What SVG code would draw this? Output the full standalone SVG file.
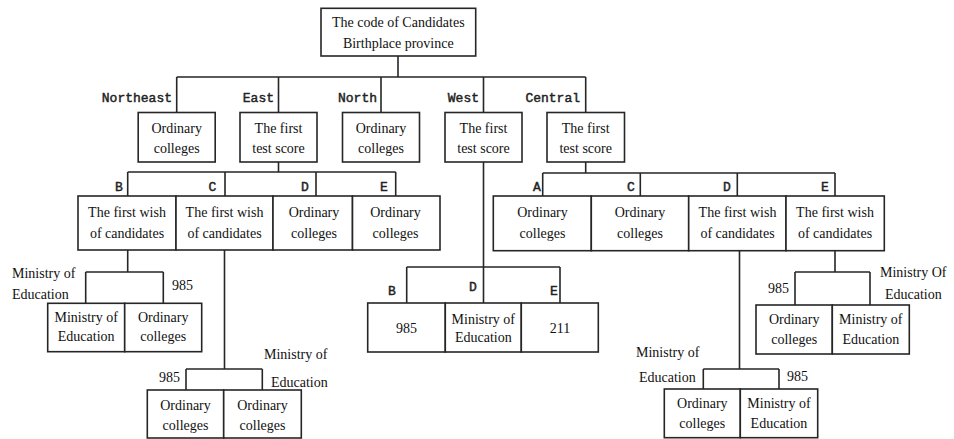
<svg xmlns="http://www.w3.org/2000/svg" width="954" height="439" viewBox="0 0 954 439">
<style>
.bg{fill:#ffffff}
.box{fill:#ffffff;stroke:#262626;stroke-width:1.6}
.ln{fill:none;stroke:#262626;stroke-width:1.6}
.t{font-family:"Liberation Serif","Tinos","DejaVu Serif","Noto Serif","Times New Roman",serif;font-size:14px;fill:#111;text-anchor:middle}
.s{font-family:"Liberation Serif","Tinos","DejaVu Serif","Noto Serif","Times New Roman",serif;font-size:14px;fill:#111}
.m{font-family:"Liberation Mono","Courier New",monospace;font-size:13px;fill:#222;stroke:#222;stroke-width:0.45}
.me{text-anchor:end}
.mm{text-anchor:middle}
</style>
<rect class="bg" x="0" y="0" width="954" height="439"/>
<g id="connectors">
<path class="ln" d="M398,56 V77 M176.7,77 H585.7 M176.7,77 V112.5 M278.5,77 V112.5 M381,77 V112.5 M483.5,77 V112.5 M585.7,77 V112.5"/>
<path class="ln" d="M278.5,162 V172 M127.7,172 H395.7 M127.7,172 V196 M225,172 V196 M316,172 V196 M395.7,172 V196"/>
<path class="ln" d="M585.7,162 V173 M542.7,173 H835 M542.7,173 V196 M640.3,173 V196 M737.3,173 V196 M835,173 V196"/>
<path class="ln" d="M483.5,162 V303 M406.7,267 H560 M406.7,267 V303 M560,267 V303"/>
<path class="ln" d="M127.7,250 V272 M85.7,272 H163.3 M85.7,272 V303.3 M163.3,272 V303.3"/>
<path class="ln" d="M224.5,250 V369 M186,369 H262.3 M186,369 V390 M262.3,369 V390"/>
<path class="ln" d="M739.5,250.7 V369 M703.3,369 H779 M703.3,369 V389 M779,369 V389"/>
<path class="ln" d="M835,250.7 V272 M795,272 H870 M795,272 V305 M870,272 V305"/>
</g>
<g id="edge-labels">
<text class="m me" x="172" y="102">Northeast</text>
<text class="m me" x="274" y="102">East</text>
<text class="m me" x="377" y="102">North</text>
<text class="m me" x="479" y="102">West</text>
<text class="m me" x="580" y="102">Central</text>
<text class="m mm" x="119" y="191">B</text>
<text class="m mm" x="212.5" y="191">C</text>
<text class="m mm" x="305" y="191">D</text>
<text class="m mm" x="384" y="191">E</text>
<text class="m mm" x="537" y="191">A</text>
<text class="m mm" x="631" y="191">C</text>
<text class="m mm" x="727" y="191">D</text>
<text class="m mm" x="825" y="191">E</text>
<text class="m mm" x="392" y="295">B</text>
<text class="m mm" x="473" y="291">D</text>
<text class="m mm" x="554" y="295">E</text>
<text class="s" x="12" y="278">Ministry of</text>
<text class="s" x="12" y="299">Education</text>
<text class="s" x="172" y="290">985</text>
<text class="s" x="159" y="381.5">985</text>
<text class="s" x="264" y="359">Ministry of</text>
<text class="s" x="271" y="386.5">Education</text>
<text class="s" x="636" y="356.5">Ministry of</text>
<text class="s" x="639" y="382">Education</text>
<text class="s" x="787" y="381">985</text>
<text class="s" x="768" y="293">985</text>
<text class="s" x="880" y="277">Ministry Of</text>
<text class="s" x="885" y="299">Education</text>
</g>
<g id="root"><rect class="box" x="321" y="8.3" width="154.7" height="47.7"/><text class="t" x="398.3" y="26.5">The code of Candidates</text><text class="t" x="398.3" y="47.5">Birthplace province</text></g>
<g id="northeast"><rect class="box" x="138.2" y="112.5" width="77" height="49.5"/><text class="t" x="176.7" y="133">Ordinary</text><text class="t" x="176.7" y="153">colleges</text></g>
<g id="east"><rect class="box" x="240" y="112.5" width="77" height="49.5"/><text class="t" x="278.5" y="133">The first</text><text class="t" x="278.5" y="153">test score</text></g>
<g id="north"><rect class="box" x="342.5" y="112.5" width="77" height="49.5"/><text class="t" x="381" y="133">Ordinary</text><text class="t" x="381" y="153">colleges</text></g>
<g id="west"><rect class="box" x="445" y="112.5" width="77" height="49.5"/><text class="t" x="483.5" y="133">The first</text><text class="t" x="483.5" y="153">test score</text></g>
<g id="central"><rect class="box" x="547" y="112.5" width="77.5" height="49.5"/><text class="t" x="585.7" y="133">The first</text><text class="t" x="585.7" y="153">test score</text></g>
<g id="east-b"><rect class="box" x="78" y="196" width="98" height="54"/><text class="t" x="127" y="217">The first wish</text><text class="t" x="127" y="237.5">of candidates</text></g>
<g id="east-c"><rect class="box" x="176" y="196" width="97" height="54"/><text class="t" x="224.5" y="217">The first wish</text><text class="t" x="224.5" y="237.5">of candidates</text></g>
<g id="east-d"><rect class="box" x="273" y="196" width="79.5" height="54"/><text class="t" x="314" y="217">Ordinary</text><text class="t" x="314" y="237.5">colleges</text></g>
<g id="east-e"><rect class="box" x="352.5" y="196" width="87.5" height="54"/><text class="t" x="395.5" y="217">Ordinary</text><text class="t" x="395.5" y="237.5">colleges</text></g>
<g id="central-a"><rect class="box" x="493.3" y="196" width="98" height="54.7"/><text class="t" x="542.5" y="217">Ordinary</text><text class="t" x="542.5" y="237.5">colleges</text></g>
<g id="central-c"><rect class="box" x="591.3" y="196" width="97.4" height="54.7"/><text class="t" x="640" y="217">Ordinary</text><text class="t" x="640" y="237.5">colleges</text></g>
<g id="central-d"><rect class="box" x="688.7" y="196" width="97.3" height="54.7"/><text class="t" x="737.5" y="217">The first wish</text><text class="t" x="737.5" y="237.5">of candidates</text></g>
<g id="central-e"><rect class="box" x="786" y="196" width="98.3" height="54.7"/><text class="t" x="835" y="217">The first wish</text><text class="t" x="835" y="237.5">of candidates</text></g>
<g id="west-b"><rect class="box" x="367.7" y="303" width="77.6" height="49"/><text class="t" x="406.5" y="332.5">985</text></g>
<g id="west-d"><rect class="box" x="445.3" y="303" width="76" height="49"/><text class="t" x="483.3" y="323.5">Ministry of</text><text class="t" x="483.3" y="341.5">Education</text></g>
<g id="west-e"><rect class="box" x="521.3" y="303" width="77" height="49"/><text class="t" x="560" y="332.5">211</text></g>
<g id="east-b-moe"><rect class="box" x="47.7" y="303.3" width="77" height="48.4"/><text class="t" x="86.2" y="321.5">Ministry of</text><text class="t" x="86.2" y="340.5">Education</text></g>
<g id="east-b-985"><rect class="box" x="124.7" y="303.3" width="77" height="48.4"/><text class="t" x="163.2" y="321.5">Ordinary</text><text class="t" x="163.2" y="340.5">colleges</text></g>
<g id="east-c-985"><rect class="box" x="147.3" y="390" width="76.4" height="48"/><text class="t" x="185.5" y="410">Ordinary</text><text class="t" x="185.5" y="430">colleges</text></g>
<g id="east-c-moe"><rect class="box" x="223.7" y="390" width="77.6" height="48"/><text class="t" x="262.5" y="410">Ordinary</text><text class="t" x="262.5" y="430">colleges</text></g>
<g id="central-d-moe"><rect class="box" x="664.3" y="389" width="76" height="48.7"/><text class="t" x="702.3" y="408">Ordinary</text><text class="t" x="702.3" y="428">colleges</text></g>
<g id="central-d-985"><rect class="box" x="740.3" y="389" width="77.4" height="48.7"/><text class="t" x="779" y="408">Ministry of</text><text class="t" x="779" y="428">Education</text></g>
<g id="central-e-985"><rect class="box" x="756" y="305" width="76.3" height="49"/><text class="t" x="794.2" y="324">Ordinary</text><text class="t" x="794.2" y="344">colleges</text></g>
<g id="central-e-moe"><rect class="box" x="832.3" y="305" width="77" height="49"/><text class="t" x="870.8" y="324">Ministry of</text><text class="t" x="870.8" y="344">Education</text></g>
</svg>
